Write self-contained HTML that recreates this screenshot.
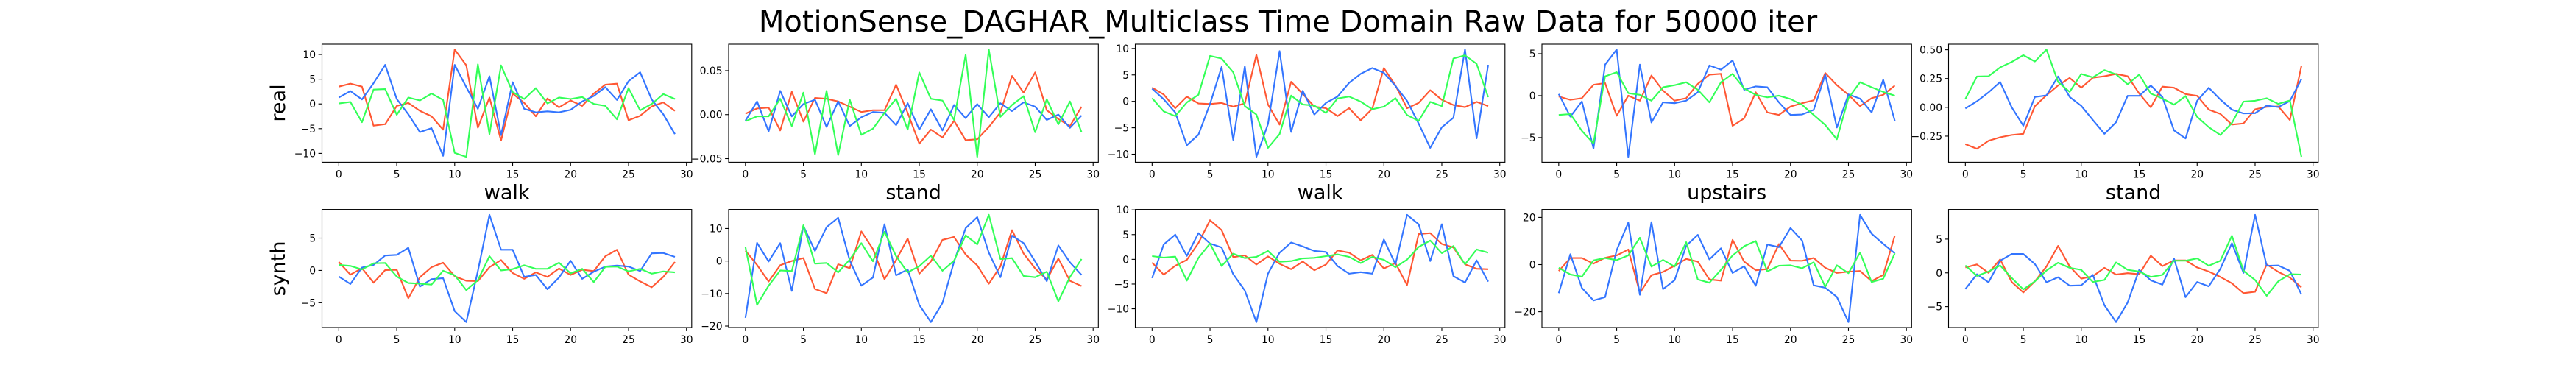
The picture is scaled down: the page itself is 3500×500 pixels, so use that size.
<!DOCTYPE html>
<html><head><meta charset="utf-8">
<style>
html,body{margin:0;padding:0;background:#fff;}
svg{display:block;}
text{font-family:"DejaVu Sans","Liberation Sans",sans-serif;fill:#000;}
</style></head>
<body>
<svg id="fig" width="3500" height="500" viewBox="0 0 3500 500" xmlns="http://www.w3.org/2000/svg">
<rect width="3500" height="500" fill="#fff"/>
<text x="1750" y="43" font-size="40" text-anchor="middle">MotionSense_DAGHAR_Multiclass Time Domain Raw Data for 50000 iter</text>
<text transform="translate(387,140) rotate(-90)" font-size="27" text-anchor="middle">real</text>
<text transform="translate(387,365) rotate(-90)" font-size="27" text-anchor="middle">synth</text>
<g id="plots"></g>
</svg>
<script>
const classLabels = ["walk","stand","walk","upstairs","stand"];
const xTicks = [0,5,10,15,20,25,30];
const seriesColors = ["#FF5733","#3375FF","#33FF57"];
// real row
const realRed = [
 [3.5,4.1,3.5,-4.4,-4.1,-0.4,0.2,-1.4,-2.5,-5.2,11.0,7.8,-4.8,1.3,-7.4,2.1,0.2,-2.5,1.1,-0.7,0.7,-0.4,2.1,3.9,4.1,-3.3,-2.4,-0.5,0.3,-1.4],
 [0.001,0.007,0.008,-0.018,0.026,-0.008,0.019,0.018,0.015,0.009,0.003,0.005,0.005,0.034,0.002,-0.033,-0.017,-0.026,-0.007,-0.029,-0.028,-0.014,0.0025,0.044,0.025,0.048,0.005,-0.005,-0.013,0.009],
 [2.6,1.3,-1.3,0.9,-0.4,-0.5,-0.3,-1.0,-0.4,8.8,-0.6,-4.4,3.7,1.4,-1.0,-1.3,-2.8,-1.3,-3.6,-1.4,6.3,3.0,-1.3,-0.3,2.1,0.3,-0.7,-1.1,-0.1,-0.9],
 [-0.1,-0.5,-0.3,1.3,1.5,-2.4,0.0,-0.6,2.4,0.6,-0.6,-0.3,1.4,2.5,2.6,-3.6,-2.7,0.4,-2.0,-2.3,-1.3,-0.9,-0.55,2.7,1.25,0.1,-1.25,-0.3,0.1,1.2],
 [-0.32,-0.36,-0.29,-0.26,-0.24,-0.23,0.01,0.105,0.19,0.255,0.17,0.257,0.27,0.29,0.27,0.12,0.0,0.18,0.17,0.115,0.1,-0.02,-0.057,-0.15,-0.14,-0.017,0.004,0.008,-0.11,0.36]
];
const realBlue = [
 [1.3,2.6,0.9,4.2,7.9,1.0,-2.1,-5.7,-4.9,-10.5,7.9,3.4,-1.0,5.6,-6.3,4.4,-1.0,-1.7,-1.5,-1.7,-1.2,0.5,1.6,3.4,0.8,4.6,6.4,0.9,-2.1,-6.1],
 [-0.007,0.015,-0.019,0.027,-0.002,0.012,0.017,-0.014,0.015,-0.013,-0.003,0.003,0.002,-0.012,0.013,-0.017,0.006,-0.018,0.011,-0.004,0.012,-0.003,0.013,0.004,0.014,0.009,-0.006,0.0,-0.015,-0.001],
 [2.4,0.4,-2.1,-8.3,-6.3,-0.5,6.5,-7.3,6.6,-10.5,-4.3,9.5,-5.8,2.0,-2.5,-0.3,0.9,3.5,5.2,6.3,5.4,2.9,0.1,-4.2,-8.8,-4.9,-3.1,9.8,-7.0,6.9],
 [0.2,-2.5,-0.7,-6.3,3.7,5.5,-7.3,3.7,-3.2,-0.8,-0.9,-0.6,0.4,3.6,3.1,4.2,0.7,1.1,1.0,-0.8,-2.3,-2.25,-1.7,2.5,-3.8,0.15,-0.35,-2.0,1.9,-3.0],
 [-0.01,0.053,0.13,0.22,0.0,-0.16,0.09,0.104,0.268,0.09,0.013,-0.11,-0.23,-0.13,0.1,0.1,0.19,0.09,-0.2,-0.27,0.057,0.17,0.068,-0.02,-0.053,-0.051,0.015,0.002,0.055,0.245]
];
const realGreen = [
 [0.1,0.4,-3.7,2.9,3.0,-2.2,1.3,0.7,2.1,0.8,-9.9,-10.7,8.0,-6.1,7.8,2.4,1.0,3.2,0.1,1.3,1.0,1.4,0.0,-0.4,-3.1,3.2,-1.3,0.0,2.0,1.0],
 [-0.0075,-0.002,-0.002,0.018,-0.013,0.025,-0.045,0.027,-0.046,0.017,-0.023,-0.016,0.002,0.018,-0.017,0.048,0.018,0.016,-0.006,0.068,-0.048,0.074,-0.0025,0.011,0.021,-0.02,0.0175,-0.011,0.015,-0.02],
 [0.6,-1.9,-2.8,-0.2,1.25,8.6,8.1,5.5,-0.9,-2.5,-8.8,-6.2,1.1,-0.6,-0.8,-2.2,0.55,0.9,-0.05,-1.5,-1.0,0.6,-2.6,-3.7,-0.1,-0.9,8.1,8.7,7.1,0.8],
 [-2.3,-2.2,-4.2,-5.7,2.3,2.8,0.3,0.1,-0.6,1.0,1.25,1.6,0.7,-0.8,1.6,2.6,0.85,0.1,-0.2,0.0,-0.4,-1.1,-2.3,-3.5,-5.2,-0.3,1.6,1.0,0.45,0.0],
 [0.072,0.268,0.27,0.347,0.394,0.453,0.398,0.502,0.22,0.134,0.29,0.26,0.323,0.287,0.2,0.285,0.12,0.077,0.023,0.098,-0.083,-0.172,-0.24,-0.136,0.05,0.057,0.079,0.03,0.06,-0.43]
];
// synth row
const synthRed = [
 [1.3,-0.65,0.35,-1.9,0.05,0.1,-4.3,-1.05,0.5,1.2,-0.9,-1.6,-1.65,0.5,1.6,-0.4,-1.3,-0.3,-1.0,0.3,-0.7,0.1,-0.1,2.2,3.2,-0.65,-1.7,-2.6,-1.0,1.3],
 [3.2,-1.2,-6.3,-1.3,0,0.9,-8.6,-9.9,-1.0,-2.2,9.1,3.7,-5.6,0.3,6.9,-3.9,-0.15,6.5,7.4,2.0,-1.35,-7.0,-1.65,9.5,2.3,-2.3,-5.7,0.75,-6.1,-7.7],
 [-0.65,-3.1,-1.3,-0.1,3.3,7.9,5.9,0.45,0.8,-1.05,0.6,-0.9,-2.0,-0.45,-2.2,-1.05,1.8,1.35,-0.2,0.9,-1.85,-0.75,-5.2,5.1,5.3,3.1,2.4,-1.0,-1.9,-2.0],
 [-2.7,2.8,2.8,0.4,2.9,3.9,6.4,-12.0,-4.5,-3.1,-0.5,2.4,1.25,-6.3,-6.8,10.5,1.25,-2.4,-1.9,8.7,1.7,1.6,2.8,-1.35,-3.55,-3.0,-2.7,-7.0,-4.4,12.3],
 [0.8,1.25,0,2.0,-1.35,-2.9,-1.25,0.95,4.0,0.95,-0.85,-0.5,0.75,-0.25,-0.05,-0.2,2.55,1.0,1.85,1.85,0.8,0.2,-0.6,-1.55,-3.0,-2.8,1.25,0.15,-0.7,-2.15]
];
const synthBlue = [
 [-0.95,-2.1,0.45,0.85,2.3,2.4,3.5,-2.5,-1.35,-1.2,-6.3,-8.0,-0.1,8.6,3.2,3.2,-1.0,-0.7,-2.9,-1.1,1.5,-1.3,-0.2,0.6,0.75,0.6,-0.1,2.65,2.7,2.1],
 [-17.5,5.6,-0.15,5.5,-9.2,10.8,3.1,10.4,13.3,0.15,-7.6,-5.1,11.3,-4.4,-2.6,-13.5,-18.8,-12.9,-0.2,10.1,13.5,2.6,-5.0,7.8,5.5,-0.15,-6.2,4.8,-0.4,-4.3],
 [-3.8,3.0,5.0,0.7,5.3,3.2,2.4,-3.0,-6.3,-12.7,-2.9,1.35,3.4,2.6,1.7,1.5,-1.35,-2.9,-2.6,-2.9,4.0,-1.0,9.0,7.1,-0.35,7.1,-3.4,-4.7,-0.2,-4.5],
 [-12.1,4.4,-9.9,-15.2,-13.8,6.1,17.8,-12.8,18.0,-10.4,-6.6,8.0,12.6,2.2,6.9,-3.55,-0.7,-9.0,8.5,7.4,15.5,10.2,-8.8,-9.8,-13.7,-24.4,21.1,13.1,8.8,4.8],
 [-2.4,-0.2,-1.4,1.8,2.8,2.8,1.3,-1.4,-0.65,-1.9,-1.85,-0.3,-4.8,-7.3,-4.4,0.45,-1.1,-1.75,2.15,-3.6,-1.35,-2.0,0.6,4.4,0.0,8.6,1.05,1.1,0.3,-3.2]
];
const synthGreen = [
 [0.85,0.7,0.15,1.1,1.15,-0.95,-1.95,-2.05,-2.2,-0.05,-0.75,-3.05,-1.5,2.2,0.0,0.2,0.8,0.25,0.25,1.2,-0.45,0.25,-1.8,0.55,0.6,-0.15,0.25,-0.5,-0.15,-0.3],
 [4.3,-13.5,-7.6,-2.9,-3.1,11.0,-0.8,-0.6,-3.5,0.45,5.5,-0.1,9.0,1.5,-3.5,-1.6,1.65,-3.0,0.1,7.9,5.1,14.2,0.6,0.9,-4.6,-5.0,-3.3,-12.4,-4.9,0.6],
 [0.65,0.35,0.55,-4.3,0.3,3.2,-1.35,1.15,0.25,0.5,1.7,-0.5,-0.35,0.2,0.3,0.65,1.0,0.5,-0.75,0.5,-0.1,-1.6,-0.05,2.5,3.8,1.25,2.7,-1.0,2.0,1.35],
 [-1.35,-4.2,-5.1,1.8,2.8,1.9,3.9,11.4,-0.85,2.0,-0.85,9.5,-6.3,-7.7,-2.2,3.9,7.8,10.0,-2.9,-0.5,-0.3,-1.55,1.0,-9.4,-0.3,-3.65,5.1,-7.4,-6.0,4.8],
 [1.1,-0.45,0.2,1.1,-0.75,-2.45,-1.25,0.35,1.5,0.75,0.45,-1.35,-1.05,1.55,0.45,0.2,-0.6,-0.3,1.8,1.8,2.15,1.05,1.8,5.5,0.3,-1.05,-3.4,-1.25,-0.2,-0.25]
];
const realYTicks = [[-10,-5,0,5,10],[-0.05,0,0.05],[-10,-5,0,5,10],[-5,0,5],[-0.25,0,0.25,0.5]];
const realYTickLabels = [["−10","−5","0","5","10"],["−0.05","0.00","0.05"],["−10","−5","0","5","10"],["−5","0","5"],["−0.25","0.00","0.25","0.50"]];
const synthYTicks = [[-5,0,5],[-20,-10,0,10],[-10,-5,0,5,10],[-20,0,20],[-5,0,5]];
const synthYTickLabels = [["−5","0","5"],["−20","−10","0","10"],["−10","−5","0","5","10"],["−20","0","20"],["−5","0","5"]];

const NS = "http://www.w3.org/2000/svg";
const root = document.getElementById("plots");
function mk(tag, attrs, parent){
  const e = document.createElementNS(NS, tag);
  for (const k in attrs) e.setAttribute(k, attrs[k]);
  parent.appendChild(e);
  return e;
}
const AX_W = 502.3, GAP = 552.5, LEFT0 = 437.5;
const ROWS = [{top:60, bottom:220.4}, {top:284.6, bottom:445}];

function drawPanel(row, col, series, yTicks, yLabels, xlabel){
  const left = LEFT0 + col*GAP, right = left + AX_W;
  const top = ROWS[row].top, bottom = ROWS[row].bottom;
  let mn = Infinity, mx = -Infinity;
  series.forEach(s => s.forEach(v => { mn = Math.min(mn, v); mx = Math.max(mx, v); }));
  const pad = (mx - mn) * 0.05;
  const y0 = mn - pad, y1 = mx + pad;
  const x0 = -1.45, x1 = 30.45;
  const X = v => left + (v - x0) / (x1 - x0) * AX_W;
  const Y = v => bottom - (v - y0) / (y1 - y0) * (bottom - top);
  const g = mk("g", {}, root);
  
  
  const clipId = "c" + row + "_" + col;
  const cp = mk("clipPath", {id: clipId}, g);
  mk("rect", {x:left, y:top, width:AX_W, height:bottom-top}, cp);
  // lines
  series.forEach((s, si) => {
    const pts = s.map((v, i) => X(i).toFixed(2) + "," + Y(v).toFixed(2)).join(" ");
    const pl = mk("polyline", {points:pts, fill:"none", stroke:seriesColors[si], "stroke-width":2.1, "stroke-linejoin":"round", "clip-path":"url(#"+clipId+")"}, g);
    
    
  });
  // frame
  const fr = mk("rect", {x:left, y:top, width:AX_W, height:bottom-top, fill:"none", stroke:"#000", "stroke-width":1.1}, g);
  
  
  // x ticks
  xTicks.forEach(t => {
    const x = X(t);
    mk("line", {x1:x, x2:x, y1:bottom, y2:bottom+4.9, stroke:"#000", "stroke-width":1.1}, g);
    const tx = mk("text", {x:x, y:bottom+21, "font-size":13.9, "text-anchor":"middle"}, g);
    tx.textContent = String(t);
    
    
  });
  // y ticks
  yTicks.forEach((t, i) => {
    const y = Y(t);
    mk("line", {x1:left-4.9, x2:left, y1:y, y2:y, stroke:"#000", "stroke-width":1.1}, g);
    const ty = mk("text", {x:left-8.4, y:y+5, "font-size":13.9, "text-anchor":"end"}, g);
    ty.textContent = yLabels[i];
    
    
  });
  if (xlabel){
    const xl = mk("text", {x:(left+right)/2, y:bottom+50, "font-size":27, "text-anchor":"middle"}, g);
    xl.textContent = xlabel;
    
    
  }
}
for (let c = 0; c < 5; c++){
  drawPanel(0, c, [realRed[c], realBlue[c], realGreen[c]], realYTicks[c], realYTickLabels[c], classLabels[c]);
  drawPanel(1, c, [synthRed[c], synthBlue[c], synthGreen[c]], synthYTicks[c], synthYTickLabels[c], null);
}
</script>
</body></html>
